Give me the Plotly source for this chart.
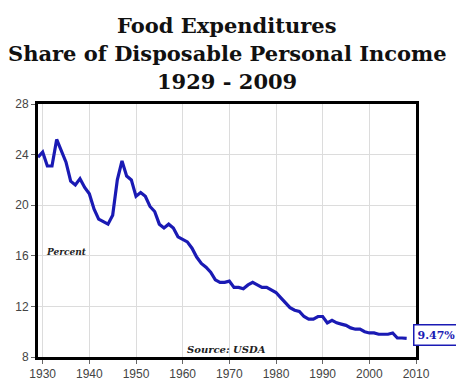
import plotly.graph_objects as go

years = list(range(1929, 2010))
share = [23.8, 24.2, 23.1, 23.1, 25.2, 24.3, 23.4, 21.9, 21.6, 22.1,
         21.4, 20.9, 19.7, 18.9, 18.7, 18.5, 19.2, 22.0, 23.5, 22.3,
         22.0, 20.7, 21.0, 20.7, 19.9, 19.5, 18.5, 18.2, 18.5, 18.2,
         17.5, 17.3, 17.1, 16.6, 15.9, 15.4, 15.1, 14.7, 14.1, 13.9,
         13.9, 14.0, 13.5, 13.5, 13.4, 13.7, 13.9, 13.7, 13.5, 13.5,
         13.3, 13.1, 12.7, 12.3, 11.9, 11.7, 11.6, 11.2, 11.0, 11.0,
         11.2, 11.2, 10.7, 10.9, 10.7, 10.6, 10.5, 10.3, 10.2, 10.2,
         10.0, 9.9, 9.9, 9.8, 9.8, 9.8, 9.9, 9.5, 9.5, 9.47]
x_ticks = [1930, 1940, 1950, 1960, 1970, 1980, 1990, 2000, 2010]
y_ticks = [8, 12, 16, 20, 24, 28]

title_lines = ["Food Expenditures", "Share of Disposable Personal Income", "1929 - 2009"]

line_color = "#1a1ab4"
serif = "DejaVu Serif"

fig = go.Figure()
fig.add_trace(go.Scatter(x=years, y=share, mode="lines",
                         line=dict(color=line_color, width=3.2), hoverinfo="skip"))

# page body has an 8px default margin, so the figure is offset by 8px
fig.update_layout(
    width=456, height=384,
    margin=dict(l=30, r=48, t=96, b=35),
    paper_bgcolor="white", plot_bgcolor="white",
    showlegend=False,
    font=dict(family="Liberation Sans, Arial", size=12, color="#444"),
)
fig.update_xaxes(range=[1929, 2010], tickvals=x_ticks, ticks="outside", ticklen=4,
                 tickcolor="#666", showgrid=True, gridcolor="#dcdcdc", gridwidth=1,
                 showline=True, linecolor="black", linewidth=3, mirror=True,
                 zeroline=False, automargin=False, tickfont=dict(size=12, color="#444"))
fig.update_yaxes(range=[8, 28], tickvals=y_ticks, ticks="outside", ticklen=4,
                 tickcolor="#666", showgrid=True, gridcolor="#dcdcdc", gridwidth=1,
                 showline=True, linecolor="black", linewidth=3, mirror=True,
                 zeroline=False, automargin=False, tickfont=dict(size=12, color="#444"))

for i, t in enumerate(title_lines):
    fig.add_annotation(text="<b>" + t + "</b>", xref="paper", yref="paper",
                       x=0.5, y=1 + (79 - 28 * i) / 253.0, xanchor="center", yanchor="middle",
                       showarrow=False, font=dict(family=serif, size=21, color="#111"))

fig.add_annotation(text="<b><i>Percent</i></b>", xref="paper", yref="y",
                   x=0.015, y=16.3, xanchor="left", yanchor="middle", showarrow=False,
                   font=dict(family=serif, size=9, color="#222"))
fig.add_annotation(text="<b><i>Source: USDA</i></b>", xref="x", yref="paper",
                   x=1960.5, y=0.03, xanchor="left", yanchor="middle", showarrow=False,
                   font=dict(family=serif, size=10, color="#222"))
fig.add_annotation(text="<b>9.47%</b>", xref="paper", yref="y",
                   x=1.0, y=share[-1], xanchor="left", yanchor="middle", showarrow=False,
                   xshift=-3, yshift=3,
                   font=dict(family=serif, size=11, color=line_color),
                   bordercolor=line_color, borderwidth=1.5, borderpad=3, bgcolor="white")

fig.write_html("out.html")
